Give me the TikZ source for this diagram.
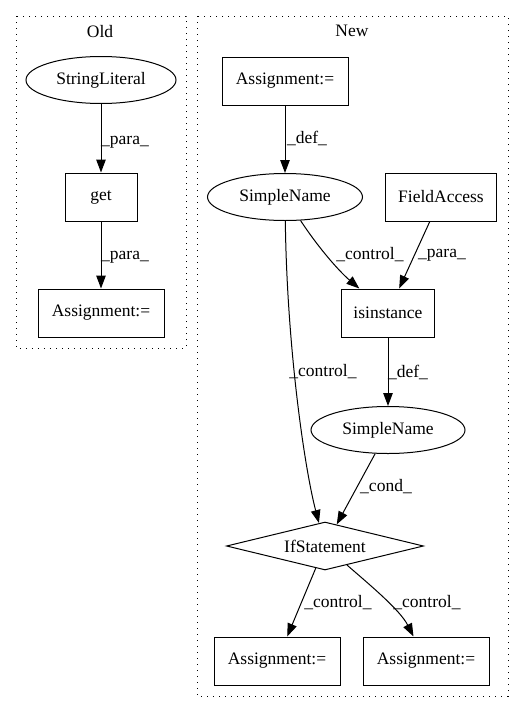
\documentclass[tikz,border=0pt]{standalone}
\usepackage{fontspec}
\setmainfont{Liberation Serif}
\usetikzlibrary{shapes.geometric,arrows.meta}
\begin{document}
\begin{tikzpicture}[x=1pt,y=-1pt,
  every node/.style={font=\fontsize{17.5}{20}\selectfont},
  box/.style={draw, line width=1pt, rectangle, inner sep=0pt, minimum height=48pt},
  ell/.style={draw, line width=1pt, ellipse, inner sep=0pt, minimum height=47pt},
  dia/.style={draw, line width=1pt, diamond, aspect=4, inner sep=0pt, minimum width=197pt, minimum height=48pt},
  edge/.style={draw, line width=1pt, -{Triangle[length=13pt,width=9.5pt]}},
  lbl/.style={inner sep=0pt},
  cluster/.style={draw, line width=1pt, dash pattern=on 1.2pt off 4.8pt}]
\useasboundingbox (0,0) rectangle (524,712);
\draw[cluster] (16,16) rectangle (186,348);
\draw[cluster] (197,16) rectangle (508,696);
\node[lbl] (oldt) at (100,32) {Old};
\node[lbl] (newt) at (352,31) {New};
% nodes
\node[ell, minimum width=150pt] (sl) at (101,80) {StringLiteral};
\node[box, minimum width=72pt] (get) at (101,197) {get};
\node[box, minimum width=126pt] (aold) at (101,313) {Assignment:=};
\node[box, minimum width=126pt] (atop) at (285,81) {Assignment:=};
\node[ell, minimum width=155pt] (sn1) at (285,197) {SimpleName};
\node[box, minimum width=111pt] (fa) at (441,197) {FieldAccess};
\node[box, minimum width=93pt] (isin) at (388,313) {isinstance};
\node[ell, minimum width=154pt] (sn2) at (388,430) {SimpleName};
\node[dia] (ifs) at (325,546) {IfStatement};
\node[box, minimum width=126pt] (abl) at (277,661) {Assignment:=};
\node[box, minimum width=126pt] (abr) at (426,661) {Assignment:=};
% edges
\draw[edge] (sl) -- (get);
\draw[edge] (get) -- (aold);
\draw[edge] (atop) -- (sn1);
\draw[edge] (sn1) .. controls (320,250) and (340,272) .. (isin);
\draw[edge] (fa) -- (isin);
\draw[edge] (sn1) .. controls (287,350) and (305,470) .. (ifs);
\draw[edge] (isin) -- (sn2);
\draw[edge] (sn2) -- (ifs);
\draw[edge] (ifs) -- (abl);
\draw[edge] (ifs) .. controls (370,585) and (400,610) .. (abr);
% labels
\node[lbl] (l1) at (125,142) {\_para\_};
\node[lbl] (l2) at (125,257) {\_para\_};
\node[lbl] (l3) at (307,138) {\_def\_};
\node[lbl] (l4) at (370,255) {\_control\_};
\node[lbl] (l5) at (442,255) {\_para\_};
\node[lbl] (l6) at (323,372) {\_control\_};
\node[lbl] (l7) at (408,372) {\_def\_};
\node[lbl] (l8) at (386,487) {\_cond\_};
\node[lbl] (l9) at (338,603) {\_control\_};
\node[lbl] (l10) at (427,603) {\_control\_};
\end{tikzpicture}
\end{document}
